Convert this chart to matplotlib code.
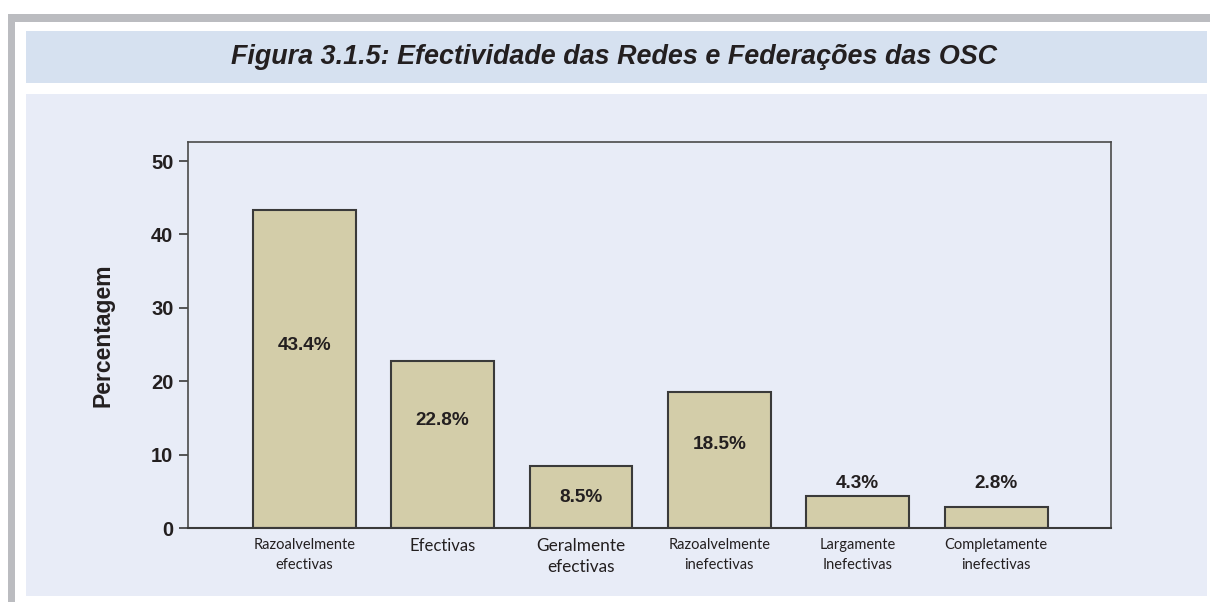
import matplotlib.pyplot as plt
from matplotlib.patches import Rectangle

categories = ['Razoalvelmente\nefectivas', 'Efectivas', 'Geralmente\nefectivas',
              'Razoalvelmente\ninefectivas', 'Largamente\nInefectivas', 'Completamente\ninefectivas']
values = [43.4, 22.8, 8.5, 18.5, 4.3, 2.8]
labels = ['43.4%', '22.8%', '8.5%', '18.5%', '4.3%', '2.8%']
yticks = [0, 10, 20, 30, 40, 50]

# where the value labels sit (data units)
label_y = [24.9, 14.7, 4.2, 11.4, 6.1, 6.1]
# per-category tick label size
tick_sizes = [10.5, 12, 12.4, 10.5, 10.5, 10.5]

W, H = 1210, 602
fig = plt.figure(figsize=(W / 100, H / 100), dpi=100)
fig.patch.set_facecolor('white')


def px_rect(x0, y0, x1, y1, color):
    # pixel box (top-left origin) -> figure fraction
    fig.patches.append(Rectangle((x0 / W, 1 - y1 / H), (x1 - x0) / W, (y1 - y0) / H,
                                 transform=fig.transFigure, facecolor=color,
                                 edgecolor='none', zorder=-5))


# gray frame, title band, panel
px_rect(8, 14, W, 22, '#BBBCC0')
px_rect(8, 14, 15, H, '#BBBCC0')
px_rect(26, 31, 1207, 83, '#D6E1F0')
px_rect(26, 94, 1207, 596, '#E8ECF7')

fig.text(614 / W, 1 - 57 / H, 'Figura 3.1.5: Efectividade das Redes e Federações das OSC',
         ha='center', va='center', fontsize=19.4, fontweight='bold', fontstyle='italic',
         family='Liberation Sans', color='#231F20')

ax = fig.add_axes([188 / W, (H - 528) / H, 923 / W, (528 - 142) / H])
ax.set_facecolor('#E8ECF7')

x = range(len(values))
ax.bar(x, values, width=0.743, color='#D3CDA9', edgecolor='#3A3A3A', linewidth=1.5, zorder=2)
for i, (lab, ly) in enumerate(zip(labels, label_y)):
    ax.text(i, ly, lab, ha='center', va='center', fontsize=13.7, fontweight='bold',
            family='Liberation Sans', color='#231F20', zorder=3)

ax.set_xlim(-0.84, 5.83)
ax.set_ylim(0, 52.6)
ax.set_yticks(yticks)
ax.set_yticklabels([str(t) for t in yticks], fontsize=14.5, fontweight='bold',
                   family='Liberation Sans', color='#231F20')
ax.tick_params(axis='y', direction='out', length=6.5, width=1.2, color='#3A3A3A', pad=4)
ax.set_xticks(list(x))
ax.set_xticklabels(categories, family='Lato', color='#231F20')
for t, s in zip(ax.get_xticklabels(), tick_sizes):
    t.set_fontsize(s)
    t.set_linespacing(1.6 if s < 11 else 1.4)
ax.tick_params(axis='x', length=0, pad=7)

ax.set_ylabel('Percentagem', fontsize=16.5, fontweight='bold', family='Liberation Sans',
              color='#231F20', labelpad=26)

for sp in ax.spines.values():
    sp.set_color('#4A4A4A')
    sp.set_linewidth(1.2)
ax.spines['bottom'].set_color('#3A3A3A')
ax.spines['bottom'].set_linewidth(1.5)

fig.savefig('out.png', dpi=100)
